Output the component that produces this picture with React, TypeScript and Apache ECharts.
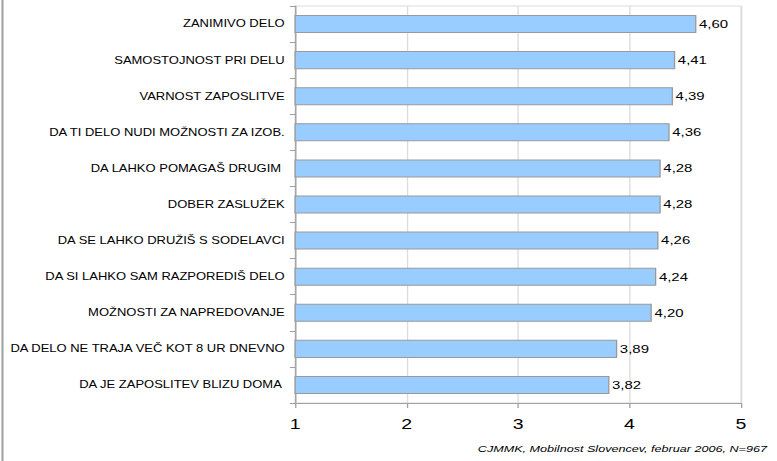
import React, { useEffect, useRef } from "react";
import * as echarts from "echarts";

const categories = [
  "ZANIMIVO DELO",
  "SAMOSTOJNOST PRI DELU",
  "VARNOST ZAPOSLITVE",
  "DA TI DELO NUDI MOŽNOSTI ZA IZOB.",
  "DA LAHKO POMAGAŠ DRUGIM ",
  "DOBER ZASLUŽEK",
  "DA SE LAHKO DRUŽIŠ S SODELAVCI",
  "DA SI LAHKO SAM RAZPOREDIŠ DELO",
  "MOŽNOSTI ZA NAPREDOVANJE",
  "DA DELO NE TRAJA VEČ KOT 8 UR DNEVNO",
  "DA JE ZAPOSLITEV BLIZU DOMA ",
];
const values = [4.6, 4.41, 4.39, 4.36, 4.28, 4.28, 4.26, 4.24, 4.2, 3.89, 3.82];
const axisMin = 1;
const axisMax = 5;
const sourceNote = "CJMMK, Mobilnost Slovencev, februar 2006, N=967";

// The reference is horizontally stretched; reproduce by scaling the chart box.
const STRETCH = 1.3;
const W = 777;
const H = 461;
const innerW = Math.round(W / STRETCH);

export default function App() {
  const ref = useRef<HTMLDivElement>(null);
  useEffect(() => {
    if (!ref.current) return;
    const chart = echarts.init(ref.current, null, { renderer: "svg" });
    chart.setOption({
      animation: false,
      textStyle: { fontFamily: "Liberation Sans, Arial, sans-serif" },
      grid: {
        left: 227,
        right: innerW - 570,
        top: 6,
        bottom: 58,
        show: true,
        borderColor: "#dcdcdc",
        borderWidth: 1,
      },
      xAxis: {
        type: "value",
        min: axisMin,
        max: axisMax,
        interval: 1,
        axisLine: { show: true, lineStyle: { color: "#a0a0a0", width: 1 } },
        axisTick: { show: true, length: 5, lineStyle: { color: "#a0a0a0" } },
        axisLabel: { color: "#000", fontSize: 15, margin: 13 },
        splitLine: { show: true, lineStyle: { color: "#dcdcdc", width: 1 } },
      },
      yAxis: {
        type: "category",
        data: categories,
        inverse: true,
        axisLine: { show: true, lineStyle: { color: "#a0a0a0", width: 1 } },
        axisTick: { show: true, length: 4, lineStyle: { color: "#a0a0a0" } },
        axisLabel: { color: "#000", fontSize: 10, margin: 8 },
        splitLine: { show: false },
      },
      series: [
        {
          type: "bar",
          data: values,
          barWidth: "50%",
          itemStyle: { color: "#99ccff", borderColor: "#999999", borderWidth: 1 },
          label: {
            show: true,
            position: "right",
            distance: 2,
            color: "#000",
            fontSize: 11.5,
            formatter: (p: any) => p.value.toFixed(2).replace(".", ","),
          },
        },
      ],
      graphic: [
        {
          type: "line",
          shape: { x1: 1.9, y1: 0, x2: 1.9, y2: H },
          style: { stroke: "#a0a0a0", lineWidth: 1.6 },
        },
        {
          type: "text",
          right: 8,
          top: 444,
          style: {
            text: sourceNote,
            font: "italic 9.7px Liberation Sans, Arial, sans-serif",
            fill: "#000",
          },
        },
      ],
    });
    return () => chart.dispose();
  }, []);
  return (
    <div style={{ position: "absolute", left: 0, top: 0, width: W, height: H, overflow: "hidden", background: "#fff" }}>
      <div
        ref={ref}
        style={{
          width: innerW,
          height: H,
          transform: `scaleX(${STRETCH})`,
          transformOrigin: "0 0",
        }}
      />
    </div>
  );
}
